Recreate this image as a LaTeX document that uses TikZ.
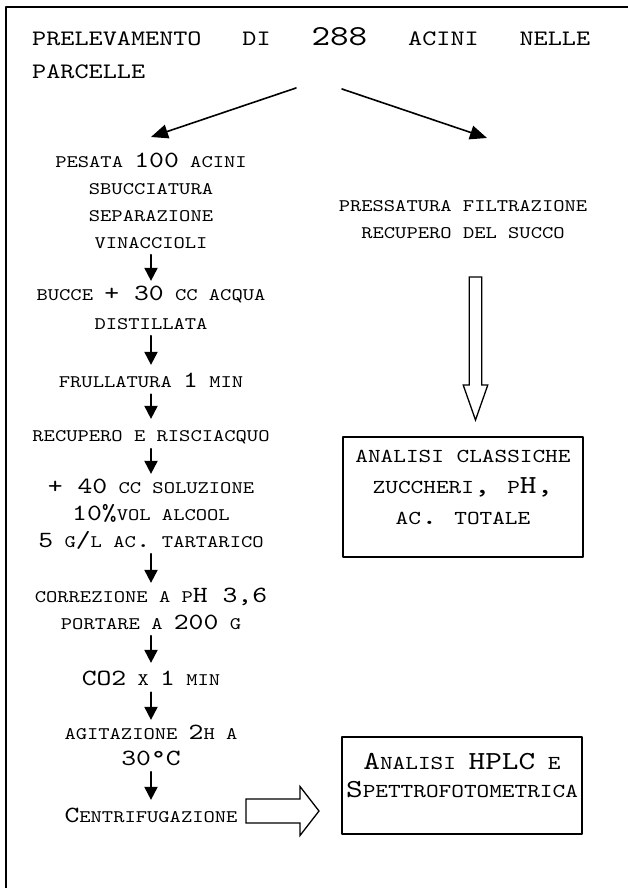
\documentclass[tikz,border=0pt]{standalone}
\usepackage{fontspec}
\usetikzlibrary{arrows.meta}
\newfontfamily\cour[Extension=.otf,FakeStretch=1.22]{lmmono10-regular}
\makeatletter
\newcommand\sm[1]{{\fontsize{\fpeval{0.76*\f@size}}{\f@baselineskip}\selectfont #1}}
\makeatother
\begin{document}
\begin{tikzpicture}[x=1pt,y=-1pt,line cap=round,line join=round,
  steptxt/.style={font=\cour\fontsize{23.2}{27}\selectfont,align=center,inner sep=4.5pt,anchor=north,
    execute at begin node=\rule{0pt}{18pt},execute at end node=\rule[-2pt]{0pt}{2pt}},
  resbox/.style={draw,line width=1.8pt,minimum width=240pt,align=center,inner sep=4pt,
    execute at begin node=\rule{0pt}{18pt},execute at end node=\rule[-20pt]{0pt}{20pt}},
  steparrow/.style={line width=1.9pt,-{Triangle[length=13pt,width=13pt]}},
  forkarrow/.style={line width=1.6pt,-{Triangle[length=17pt,width=14pt]}},
  hollow/.style={line width=1.3pt,line cap=butt,line join=miter}]
  \useasboundingbox (0,0) rectangle (628,888);
  \draw[line width=2pt,line cap=butt] (628,7) -- (6,7) -- (6,888);
  % title and fork
  \node[font=\cour\fontsize{29}{33}\selectfont,align=left,inner sep=0pt,anchor=north west,
    execute at begin node=\rule{0pt}{18pt}] (title) at (32,27.7)
    {\hbox to 558pt{\sm{PRELEVAMENTO}\hfill\sm{DI}\hfill 288\hfill\sm{ACINI}\hfill\sm{NELLE}}\\\sm{PARCELLE}};
  \coordinate (forkL) at (296,88);
  \coordinate (forkR) at (342,89);
  \coordinate (tipL) at (151,137);
  \coordinate (tipR) at (487,138);
  \draw[forkarrow] (forkL) -- (tipL);
  \draw[forkarrow] (forkR) -- (tipR);
  % left column
  \node[steptxt] (pesata) at (151,147.9) {\sm{PESATA }100\sm{ ACINI}\\\sm{SBUCCIATURA}\\\sm{SEPARAZIONE}\\\sm{VINACCIOLI}};
  \node[steptxt] (bucce) at (151,280.9) {\sm{BUCCE }+ 30\sm{ CC ACQUA}\\[2pt]\sm{DISTILLATA}};
  \node[steptxt] (frulla) at (151,364.9) {\sm{FRULLATURA }1\sm{ MIN}};
  \node[steptxt] (risciacquo) at (151,418.9) {\sm{RECUPERO E RISCIACQUO}};
  \node[steptxt] (soluzione) at (151,473.9) {+ 40\sm{ CC SOLUZIONE}\\10\%\sm{VOL ALCOOL}\\5\sm{ G}/\sm{L AC}.\sm{ TARTARICO}};
  \node[steptxt] (correz) at (151,582.9) {\sm{CORREZIONE A P}H 3,6\\\sm{PORTARE A }200\sm{ G}};
  \node[steptxt] (cotwo) at (151,662.9) {CO2\sm{ X }1\sm{ MIN}};
  \node[steptxt] (agita) at (151,719.9) {\sm{AGITAZIONE }2\sm{H A}\\[-1pt]30°C};
  \node[steptxt] (centri) at (151,799.9) {C\sm{ENTRIFUGAZIONE}};
  \draw[steparrow] (pesata) -- (bucce);
  \draw[steparrow] (bucce) -- (frulla);
  \draw[steparrow] (frulla) -- (risciacquo);
  \draw[steparrow] (risciacquo) -- (soluzione);
  \draw[steparrow] (soluzione) -- (correz);
  \draw[steparrow] (correz) -- (cotwo);
  \draw[steparrow] (cotwo) -- (agita);
  \draw[steparrow] (agita) -- (centri);
  % right column
  \node[steptxt] (pressa) at (463,195.9) {\sm{PRESSATURA FILTRAZIONE}\\\sm{RECUPERO DEL SUCCO}};
  \node[resbox,font=\cour\fontsize{26}{31}\selectfont,minimum height=120pt] (classiche) at (463,497)
    {\sm{ANALISI CLASSICHE}\\\sm{ZUCCHERI}, \sm{P}H,\\\sm{AC}. \sm{TOTALE}};
  \node[resbox,font=\cour\fontsize{26}{28}\selectfont,minimum height=97pt] (hplc) at (462,785.5)
    {A\sm{NALISI }HPLC\sm{ E}\\S\sm{PETTROFOTOMETRICA}};
  % hollow arrows
  \coordinate (juice) at (475.5,277);
  \draw[hollow] (juice) ++(-6.2,0) -- ++(0,108) -- ++(-6.1,0) -- ++(12.3,35) -- ++(12.3,-35)
    -- ++(-6.1,0) -- ++(0,-108) -- cycle;
  \coordinate (spin) at (246,811);
  \draw[hollow] (spin) ++(0,-12) -- ++(54,0) -- ++(0,-12.5) -- ++(19,24.5) -- ++(-19,24.5)
    -- ++(0,-12.5) -- ++(-54,0) -- cycle;
\end{tikzpicture}
\end{document}
